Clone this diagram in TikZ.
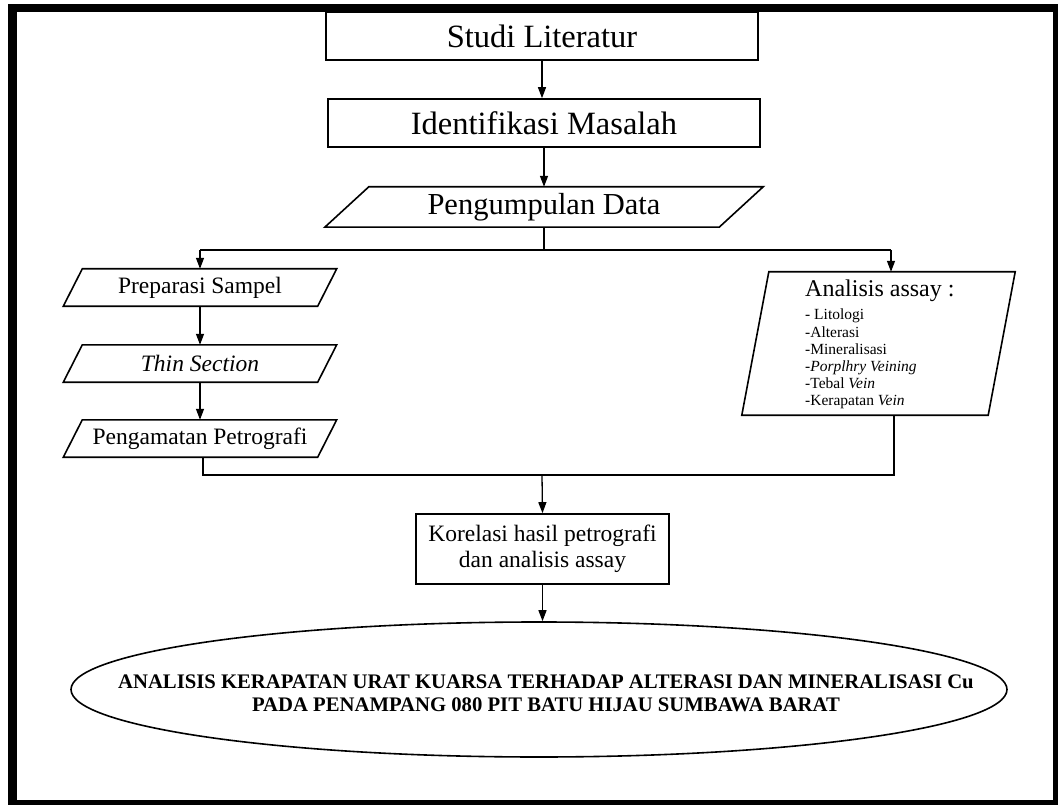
\documentclass[tikz,border=0pt]{standalone}
\usepackage{fontspec}
\setmainfont{Liberation Serif}
\usetikzlibrary{arrows.meta,calc,shapes.geometric}
\newcommand\drawpara[2]{\draw[boxline] ([xshift=#2]#1.north west) -- ([xshift=#2]#1.north east) -- ([xshift=-#2]#1.south east) -- ([xshift=-#2]#1.south west) -- cycle;}
\begin{document}
\begin{tikzpicture}[x=1pt,y=-1pt,
  boxline/.style={line width=1.6pt},
  rectbox/.style={draw, boxline, inner sep=0pt, align=center},
  parabox/.style={inner sep=0pt, align=center},
  conn/.style={line width=1.3pt},
  arr/.style={conn, -{Triangle[length=11pt,width=8pt]}},
  big/.style={font=\fontsize{32.5}{36}\selectfont},
  mid/.style={font=\fontsize{30.5}{32}\selectfont},
  small/.style={font=\fontsize{23.5}{26}\selectfont}]
\useasboundingbox (0,0) rectangle (1058,805);
\fill[black] (8,4) rectangle (1058,805);
\fill[white] (17,12) rectangle (1053,800);

\node[rectbox, big, minimum width=432pt, minimum height=48pt] (sl) at (542,36) {Studi Literatur};
\node[rectbox, big, minimum width=432pt, minimum height=48pt] (im) at (544,123) {Identifikasi Masalah};
\node[parabox, mid, minimum width=394pt, minimum height=40pt] (pd) at (544,207) {Pengumpulan Data};
\drawpara{pd}{22pt}

\node[parabox, small, minimum width=254pt, minimum height=37pt] (ps) at (200,287.5) {Preparasi Sampel};
\drawpara{ps}{9.5pt}
\node[parabox, small, minimum width=254pt, minimum height=37pt] (ts) at (200,363.5) {\itshape Thin Section};
\drawpara{ts}{9.5pt}
\node[parabox, small, minimum width=254pt, minimum height=37pt] (pp) at (200,438.5) {Pengamatan Petrografi};
\drawpara{pp}{9.5pt}

\node[parabox, minimum width=246pt, minimum height=143pt] (an) at (878.5,343.5) {};
\drawpara{an}{13.5pt}
\node[anchor=south west, inner sep=0pt, font=\fontsize{24}{25}\selectfont] (anhead) at (805,302) {Analisis assay :};
\node[anchor=north west, inner sep=0pt, align=left, font=\fontsize{15.5}{17.2}\selectfont] (anlist) at (805,309)
  {- Litologi\\ -Alterasi\\ -Mineralisasi\\ -\textit{Porplhry Veining}\\ -Tebal \textit{Vein}\\ -Kerapatan \textit{Vein}};

\node[rectbox, small, minimum width=253pt, minimum height=70pt] (ko) at (542.5,549) {Korelasi hasil petrografi\\dan analisis assay};

\node[draw, ellipse, boxline, minimum width=936pt, minimum height=135pt, inner sep=0pt] (el) at (539,689.5) {};
\node[inner sep=0pt, align=center, font=\fontsize{20.7}{23}\selectfont\bfseries] (eltxt) at ([xshift=7pt,yshift=-4pt]el.center)
  {ANALISIS KERAPATAN URAT KUARSA TERHADAP ALTERASI DAN MINERALISASI Cu\\PADA PENAMPANG 080 PIT BATU HIJAU SUMBAWA BARAT};

\coordinate (split) at (544,250);
\coordinate (splitL) at (200,250);
\coordinate (splitR) at (891,250);
\coordinate (joinL) at (203,475);
\coordinate (joinM) at (542,475);
\coordinate (joinR) at (894,475);

\draw[arr] (sl.south -| 542,0) -- (im.north -| 542,0);
\draw[arr] (im.south -| 544,0) -- (pd.north);
\draw[conn] (pd.south) -- (split);
\draw[conn] (splitL) -- (splitR);
\draw[arr] (splitL) -- (ps.north);
\draw[arr] (splitR) -- (an.north -| splitR);
\draw[arr] (ps.south) -- (ts.north);
\draw[arr] (ts.south) -- (pp.north);
\draw[conn] (pp.south -| joinL) -- (joinL) -- (joinR) -- (an.south -| joinR);
\draw[arr] (joinM) -- (ko.north);
\draw[arr] (ko.south) -- (el.north -| ko.south);
\end{tikzpicture}
\end{document}
